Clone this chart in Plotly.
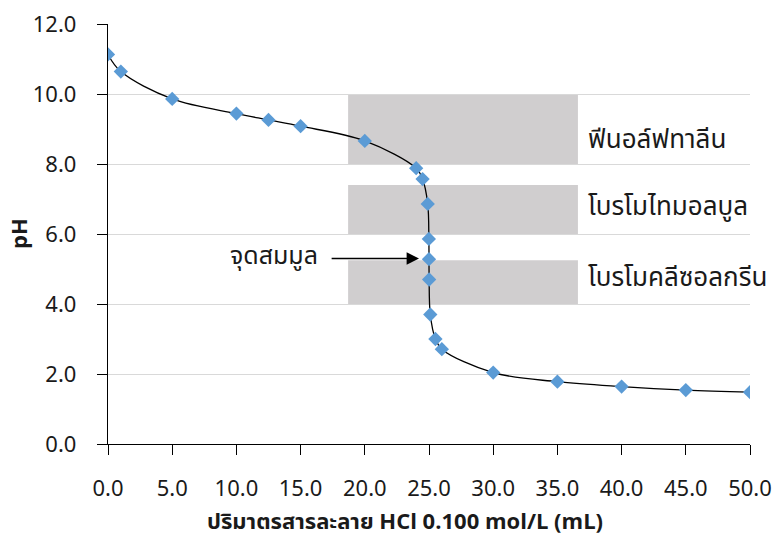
import plotly.graph_objects as go

volume_ml = [0.0, 1.0, 5.0, 10.0, 12.5, 15.0, 20.0, 24.0, 24.5, 24.9, 24.99, 25.0, 25.01, 25.1, 25.5, 26.0, 30.0, 35.0, 40.0, 45.0, 50.0]
ph_values = [11.13, 10.64, 9.86, 9.44, 9.26, 9.08, 8.66, 7.88, 7.57, 6.86, 5.86, 5.28, 4.70, 3.70, 3.00, 2.71, 2.04, 1.78, 1.64, 1.54, 1.48]

indicator_names = ["ฟีนอล์ฟทาลีน", "โบรโมไทมอลบูล", "โบรโมคลีซอลกรีน"]
indicator_low = [8.0, 6.0, 4.0]
indicator_high = [10.0, 7.4, 5.25]
band_x0 = 18.7
band_x1 = 36.6

x_ticks = [0, 5, 10, 15, 20, 25, 30, 35, 40, 45, 50]
y_ticks = [0, 2, 4, 6, 8, 10, 12]

x_title = "<b>ปริมาตรสารละลาย HCl 0.100 mol/L (mL)</b>"
y_title = "<b>pH</b>"
eq_label = "จุดสมมูล"
eq_volume = 25.0
eq_ph = 5.30

FONT = "Noto Sans Thai, Noto Sans, sans-serif"
TXT = "#1a1a1a"

fig = go.Figure()

for lo, hi in zip(indicator_low, indicator_high):
    fig.add_shape(type="rect", xref="x", yref="y", x0=band_x0, x1=band_x1, y0=lo, y1=hi,
                  fillcolor="#D0CECF", line=dict(width=0), layer="below")

fig.add_trace(go.Scatter(
    x=volume_ml, y=ph_values, mode="lines+markers",
    line=dict(color="black", width=1.3, shape="spline", smoothing=1.0),
    marker=dict(symbol="diamond", size=11, color="#5B9BD5"),
    showlegend=False,
))

label_y = [8.69, 6.77, 4.74]
for name, ly in zip(indicator_names, label_y):
    fig.add_annotation(x=band_x1, y=ly, xref="x", yref="y", text=name,
                       showarrow=False, xanchor="left", xshift=8, yanchor="middle",
                       font=dict(family=FONT, size=26, color=TXT))

fig.add_annotation(x=eq_volume, y=eq_ph, xref="x", yref="y", ax=17.3, ay=eq_ph, axref="x", ayref="y",
                   text="", showarrow=True, arrowhead=2, arrowsize=1.9, arrowwidth=1.3,
                   arrowcolor="black", standoff=10)
fig.add_annotation(x=16.5, y=eq_ph + 0.07, xref="x", yref="y", text=eq_label, showarrow=False,
                   xanchor="right", yanchor="middle", font=dict(family=FONT, size=25, color=TXT))

fig.add_annotation(x=(405 - 108) / 642, y=0, xref="paper", yref="paper", text=x_title,
                   showarrow=False, xanchor="center", yanchor="middle", yshift=-78,
                   font=dict(family=FONT, size=22, color=TXT))
fig.add_annotation(x=0, y=0.5, xref="paper", yref="paper", text=y_title, textangle=-90,
                   showarrow=False, xanchor="center", yanchor="middle", xshift=-88,
                   font=dict(family=FONT, size=22, color=TXT))

fig.update_layout(
    width=774, height=545,
    margin=dict(l=108, r=24, t=24, b=101),
    plot_bgcolor="white", paper_bgcolor="white",
    font=dict(family=FONT, size=22, color=TXT),
)
fig.update_xaxes(
    range=[0, 50], tickvals=x_ticks, ticktext=[f"{v:.1f}" for v in x_ticks],
    showline=True, linecolor="black", linewidth=1.3, ticks="outside", ticklen=10,
    tickcolor="black", showgrid=False, zeroline=False, automargin=False,
    ticklabelstandoff=14, tickfont=dict(size=22), ticklabeloverflow="allow",
)
fig.update_yaxes(
    range=[0, 12], tickvals=y_ticks, ticktext=[f"{v:.1f}" for v in y_ticks],
    showline=True, linecolor="black", linewidth=1.3, ticks="outside", ticklen=10,
    tickcolor="black", showgrid=True, gridcolor="#D9D9D9", gridwidth=1, zeroline=False,
    automargin=False, ticklabelstandoff=16, tickfont=dict(size=22),
)

# remove the page's default 8px body margin so the figure fills the window exactly
fig.write_html(
    "out.html",
    config={"displayModeBar": False},
    post_script="document.body.style.margin='0px';document.body.style.overflow='hidden';",
)
